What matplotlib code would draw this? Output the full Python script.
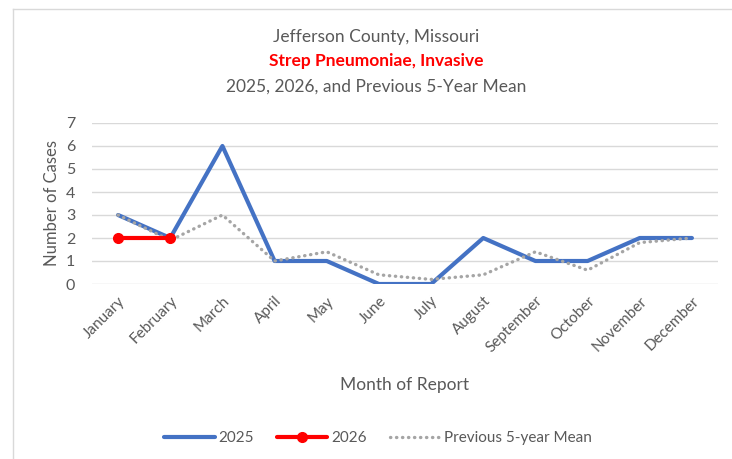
import matplotlib
matplotlib.use("Agg")
import matplotlib.pyplot as plt
from matplotlib.lines import Line2D

months = ["January", "February", "March", "April", "May", "June", "July",
          "August", "September", "October", "November", "December"]
cases_2025 = [3, 2, 6, 1, 1, 0, 0, 2, 1, 1, 2, 2]
cases_2026 = [2, 2]
mean_5yr = [3.0, 1.9, 3.0, 1.0, 1.4, 0.4, 0.2, 0.4, 1.4, 0.6, 1.8, 2.0]
yticks = [0, 1, 2, 3, 4, 5, 6, 7]

plt.rcParams['font.family'] = ['Lato', 'DejaVu Sans']
txt = '#595959'

fig = plt.figure(figsize=(7.32, 4.59), dpi=100)
ax = fig.add_axes([92/732, 1-284/459, 626/732, 161/459])

x = list(range(len(months)))
ax.plot(x, cases_2025, color='#4472C4', lw=3.0, solid_capstyle='round',
        solid_joinstyle='round', zorder=3)
ax.plot(x, mean_5yr, color='#A5A5A5', lw=2.4, linestyle=(0, (0.1, 1.7)),
        dash_capstyle='round', zorder=4)
ax.plot(x[:len(cases_2026)], cases_2026, color='#FF0000', lw=3.0,
        marker='o', markersize=7, solid_capstyle='round', zorder=5)

ax.set_xlim(-0.5, 11.5)
ax.set_ylim(0, 7)
ax.set_yticks(yticks)
ax.set_xticks(x)
ax.set_xticklabels(months, rotation=45, ha='right', rotation_mode='anchor',
                   fontsize=11, color=txt)
ax.tick_params(axis='y', labelsize=11.5, colors=txt, length=0, pad=12)
ax.tick_params(axis='x', length=0, pad=7)
ax.grid(axis='y', color='#D9D9D9', lw=1)
ax.set_axisbelow(True)
for s in ax.spines.values():
    s.set_visible(False)

ax.set_ylabel("Number of Cases", fontsize=12, color=txt, labelpad=4)
fig.text(405/732, 1-385/459, "Month of Report", fontsize=12.5, color=txt,
         ha='center', va='center')

fig.text(376/732, 1-37/459, "Jefferson County, Missouri", fontsize=12.5,
         color=txt, ha='center', va='center')
fig.text(376/732, 1-61/459, "Strep Pneumoniae, Invasive", fontsize=12.5,
         color='#FF0000', fontweight='bold', ha='center', va='center')
fig.text(376/732, 1-87/459, "2025, 2026, and Previous 5-Year Mean",
         fontsize=12.5, color=txt, ha='center', va='center')

handles = [
    Line2D([], [], color='#4472C4', lw=3.0, solid_capstyle='round'),
    Line2D([], [], color='#FF0000', lw=3.0, marker='o', markersize=7,
           solid_capstyle='round'),
    Line2D([], [], color='#A5A5A5', lw=2.4, linestyle=(0, (0.1, 1.7)),
           dash_capstyle='round'),
]
leg = fig.legend(handles, ["2025", "2026", "Previous 5-year Mean"],
                 loc='center', bbox_to_anchor=(378/732, 1-438/459), ncol=3,
                 frameon=False, fontsize=11, handlelength=3.3,
                 handletextpad=0.25, columnspacing=1.5)
for t in leg.get_texts():
    t.set_color(txt)

# outer chart border (left and top visible)
fig.add_artist(Line2D([12.5/732, 12.5/732], [0, 1-8.5/459],
                      transform=fig.transFigure, color='#D9D9D9', lw=1))
fig.add_artist(Line2D([12.5/732, 1], [1-8.5/459, 1-8.5/459],
                      transform=fig.transFigure, color='#D9D9D9', lw=1))

fig.savefig("out.png", dpi=100)
